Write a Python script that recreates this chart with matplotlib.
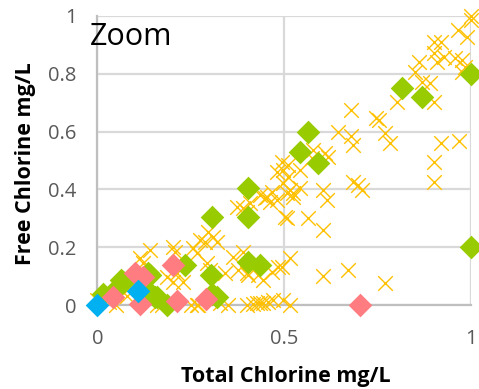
import matplotlib
matplotlib.use("Agg")
import matplotlib.pyplot as plt

# Measurements: total vs free chlorine (mg/L)
orange_x = [1.00, 1.00, 0.964, 0.99, 0.902, 0.921, 0.902, 0.929, 0.956, 0.975,
            0.862, 0.91, 0.983, 0.975, 0.849, 0.868, 0.889, 0.803, 0.902, 0.68,
            0.747, 0.755, 0.643, 0.68, 0.683, 0.771, 0.782, 0.921, 0.969, 0.902,
            0.902, 0.683, 0.697, 0.707, 0.603, 0.614, 0.507, 0.523, 0.541, 0.507,
            0.563, 0.603, 0.515, 0.493, 0.603, 0.67, 0.771, 0.515,
            0.576, 0.608, 0.574, 0.616, 0.493, 0.509, 0.496, 0.48, 0.509, 0.541,
            0.515, 0.523, 0.467, 0.453, 0.48, 0.434, 0.448, 0.461, 0.373, 0.389,
            0.408, 0.40, 0.497, 0.501,
            0.389, 0.483, 0.467, 0.402, 0.443, 0.341, 0.349, 0.416, 0.426, 0.434,
            0.443, 0.456, 0.469, 0.274, 0.287, 0.309, 0.32, 0.295, 0.255, 0.266,
            0.14, 0.114, 0.122, 0.202, 0.207, 0.186, 0.213, 0.229, 0.202, 0.293,
            0.301, 0.362, 0.376, 0.40, 0.429, 0.496, 0.40, 0.266, 0.328, 0.0,
            0.159, 0.172, 0.087, 0.25, 0.27, 0.05, 0.03, 0.08]
orange_y = [1.00, 0.985, 0.952, 0.927, 0.91, 0.91, 0.872, 0.858, 0.855, 0.848,
            0.841, 0.841, 0.824, 0.806, 0.806, 0.772, 0.768, 0.702, 0.702, 0.675,
            0.647, 0.64, 0.599, 0.585, 0.554, 0.595, 0.561, 0.561, 0.567, 0.495,
            0.426, 0.426, 0.415, 0.398, 0.398, 0.363, 0.388, 0.388, 0.467, 0.301,
            0.301, 0.26, 0.163, 0.131, 0.10, 0.121, 0.076, 0.0,
            0.536, 0.526, 0.509, 0.512, 0.495, 0.484, 0.467, 0.46, 0.443, 0.405,
            0.398, 0.374, 0.391, 0.374, 0.363, 0.381, 0.37, 0.356, 0.339, 0.336,
            0.353, 0.322, 0.422, 0.304,
            0.183, 0.131, 0.114, 0.104, 0.087, 0.111, 0.0, 0.003, 0.007, 0.007,
            0.007, 0.01, 0.017, 0.225, 0.218, 0.235, 0.218, 0.253, 0.197, 0.18,
            0.19, 0.163, 0.145, 0.201, 0.183, 0.097, 0.111, 0.08, 0.08, 0.145,
            0.121, 0.166, 0.121, 0.111, 0.104, 0.017, 0.0, 0.0, 0.007, 0.017,
            0.0, 0.0, 0.062, 0.0, 0.0, 0.0, 0.01, 0.03]

green_x = [1.00, 0.814, 0.87, 0.563, 0.541, 0.59, 0.402, 0.402, 0.306, 0.402,
           0.434, 0.234, 0.303, 0.306, 1.00, 0.159, 0.068, 0.14, 0.047, 0.015,
           0.186, 0.32, 0.14, 0.063, 0.135, 0.154]
green_y = [0.80, 0.751, 0.72, 0.599, 0.529, 0.491, 0.405, 0.304, 0.304, 0.149,
           0.138, 0.138, 0.104, 0.038, 0.20, 0.028, 0.08, 0.104, 0.052, 0.038,
           0.0, 0.028, 0.042, 0.087, 0.111, 0.028]

pink_x = [0.202, 0.10, 0.122, 0.041, 0.114, 0.213, 0.29, 0.702]
pink_y = [0.138, 0.111, 0.097, 0.028, 0.003, 0.014, 0.021, 0.0]

blue_x = [0.0, 0.108]
blue_y = [0.0, 0.048]

x_ticks = [0, 0.5, 1]
x_tick_labels = ["0", "0.5", "1"]
y_ticks = [0, 0.2, 0.4, 0.6, 0.8, 1]
y_tick_labels = ["0", "0.2", "0.4", "0.6", "0.8", "1"]

plt.rcParams["font.family"] = ["Open Sans", "DejaVu Sans"]

fig = plt.figure(figsize=(4.79, 3.89), dpi=100)
ax = fig.add_axes([0.2035, 0.2159, 0.7798, 0.7430])

ax.set_xlim(0, 1)
ax.set_ylim(0, 1)

grid_color = "#D9D9D9"
ax.set_xticks(x_ticks)
ax.set_xticklabels(x_tick_labels)
ax.set_yticks(y_ticks)
ax.set_yticklabels(y_tick_labels)
ax.grid(True, color=grid_color, linewidth=1.6, zorder=0)
ax.set_axisbelow(True)
for side in ("top", "right"):
    ax.spines[side].set_visible(False)
for side in ("left", "bottom"):
    ax.spines[side].set_color("#BFBFBF")
    ax.spines[side].set_linewidth(1.6)
ax.tick_params(length=0, labelsize=14.5, labelcolor="#595959")
ax.tick_params(axis="x", pad=17)
ax.tick_params(axis="y", pad=15)

diamond_size = 145
ax.scatter(orange_x, orange_y, marker="x", s=110, color="#FFC000",
           linewidths=1.0, clip_on=False, zorder=3)
ax.scatter(green_x, green_y, marker="D", s=diamond_size, color="#99CC00",
           linewidths=0, clip_on=False, zorder=4)
ax.scatter(pink_x, pink_y, marker="D", s=diamond_size, color="#FF7C80",
           linewidths=0, clip_on=False, zorder=5)
ax.scatter(blue_x, blue_y, marker="D", s=diamond_size, color="#00B0F0",
           linewidths=0, clip_on=False, zorder=6)

ax.set_xlabel("Total Chlorine mg/L", fontsize=15.5, fontweight="bold")
ax.xaxis.label.set_va("baseline")
ax.xaxis.set_label_coords(0.503, -0.265)
ax.set_ylabel("Free Chlorine mg/L", fontsize=15.5, fontweight="bold")
ax.yaxis.set_label_coords(-0.165, 0.488)

fig.text(0.188, 0.884, "Zoom", fontsize=22, color="black", ha="left",
         va="baseline")

fig.savefig("out.png", dpi=100)
